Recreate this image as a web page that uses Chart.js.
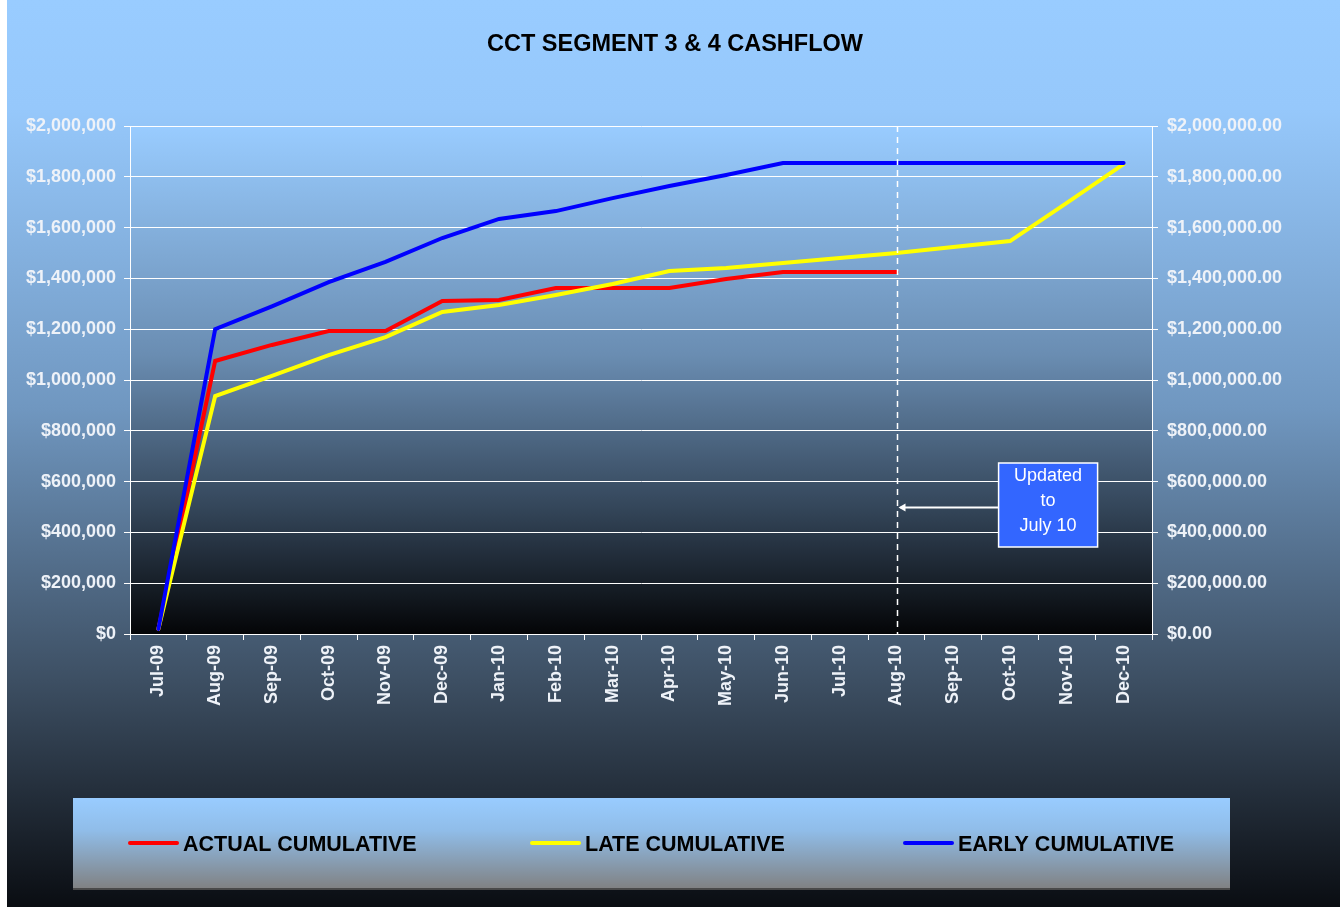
<!DOCTYPE html>
<html>
<head>
<meta charset="utf-8">
<title>CCT Segment 3 & 4 Cashflow</title>
<script src="https://cdn.jsdelivr.net/npm/chart.js@4.4.1/dist/chart.umd.min.js"></script>
<style>
  html, body { margin: 0; padding: 0; background: #ffffff; }
  #wrap { position: absolute; left: 7px; top: 0; width: 1333px; height: 907px; }
</style>
</head>
<body>
<div id="wrap"><canvas id="grafico" width="1333" height="907"></canvas></div>
<script>
const categories = ['Jul-09', 'Aug-09', 'Sep-09', 'Oct-09', 'Nov-09', 'Dec-09', 'Jan-10', 'Feb-10', 'Mar-10',
    'Apr-10', 'May-10', 'Jun-10', 'Jul-10', 'Aug-10', 'Sep-10', 'Oct-10', 'Nov-10', 'Dec-10'];

const actualCumulative = [20000, 1075000, 1138000, 1193000, 1193000, 1311000, 1315000, 1362000, 1362000,
    1362000, 1398000, 1425000, 1425000, 1425000, null, null, null, null];
const lateCumulative = [20000, 937000, 1016000, 1098000, 1169000, 1268000, 1295000, 1335000, 1378000,
    1429000, 1441000, 1461000, 1480000, 1500000, 1524000, 1547000, 1697000, 1850000];
const earlyCumulative = [20000, 1200000, 1290000, 1385000, 1465000, 1559000, 1634000, 1665000, 1716000,
    1764000, 1807000, 1854000, 1854000, 1854000, 1854000, 1854000, 1854000, 1854000];

const seriesNames = ['ACTUAL CUMULATIVE', 'LATE CUMULATIVE', 'EARLY CUMULATIVE'];
const seriesColors = ['#ff0000', '#ffff00', '#0000ff'];
const updatedMonth = 'Aug-10';
const noteLines = ['Updated', 'to', 'July 10'];

const FONT = '"Liberation Sans", Arial, sans-serif';

// backgrounds, title, legend box and the "updated" marker
const decor = {
    id: 'decor',
    beforeDraw(chart) {
        const ctx = chart.ctx, a = chart.chartArea;
        const w = chart.width, h = chart.height;
        let g = ctx.createLinearGradient(0, 0, 0, h);
        g.addColorStop(0, '#99ccff');
        g.addColorStop(0.12, '#96c8fb');
        g.addColorStop(0.45, '#7097c0');
        g.addColorStop(0.75, '#3d4f63');
        g.addColorStop(1, '#0a0d12');
        ctx.save();
        ctx.fillStyle = g;
        ctx.fillRect(0, 0, w, h);

        g = ctx.createLinearGradient(0, a.top, 0, a.bottom);
        g.addColorStop(0, '#99ccff');
        g.addColorStop(0.45, '#6a8db2');
        g.addColorStop(0.75, '#34465a');
        g.addColorStop(1, '#040507');
        ctx.fillStyle = g;
        ctx.fillRect(a.left, a.top, a.right - a.left, a.bottom - a.top);

        // title
        ctx.fillStyle = '#000000';
        ctx.font = 'bold 23.5px ' + FONT;
        ctx.textAlign = 'center';
        ctx.textBaseline = 'middle';
        ctx.fillText('CCT SEGMENT 3 & 4 CASHFLOW', 668, 45);

        // legend box
        const lx = 66, ly = 798, lw = 1157, lh = 92;
        g = ctx.createLinearGradient(0, ly, 0, ly + lh);
        g.addColorStop(0, '#99ccff');
        g.addColorStop(0.35, '#90bde9');
        g.addColorStop(1, '#808080');
        ctx.fillStyle = g;
        ctx.fillRect(lx, ly, lw, lh);
        ctx.fillStyle = '#4a4a4a';
        ctx.fillRect(lx, ly + lh - 2, lw, 2);

        const itemX = [123, 525, 898];
        ctx.font = 'bold 21.5px ' + FONT;
        ctx.textAlign = 'left';
        for (let i = 0; i < seriesNames.length; i++) {
            ctx.strokeStyle = seriesColors[i];
            ctx.lineWidth = 4;
            ctx.lineCap = 'round';
            ctx.beginPath();
            ctx.moveTo(itemX[i], 843);
            ctx.lineTo(itemX[i] + 47, 843);
            ctx.stroke();
            ctx.fillStyle = '#000000';
            ctx.fillText(seriesNames[i], itemX[i] + 53, 845);
        }
        ctx.restore();
    },
    afterDatasetsDraw(chart) {
        const ctx = chart.ctx, a = chart.chartArea;
        const xs = chart.scales.x, ys = chart.scales.y;
        const mx = Math.round(xs.getPixelForValue(categories.indexOf(updatedMonth))) + 0.5;
        ctx.save();
        ctx.strokeStyle = '#ffffff';
        ctx.lineWidth = 1.5;
        ctx.setLineDash([6, 5]);
        ctx.beginPath();
        ctx.moveTo(mx, a.top);
        ctx.lineTo(mx, a.bottom);
        ctx.stroke();
        ctx.setLineDash([]);

        // note box
        const step = xs.getPixelForValue(1) - xs.getPixelForValue(0);
        const cx = xs.getPixelForValue(categories.indexOf('Oct-10')) + step * 0.67;
        const cy = ys.getPixelForValue(500000) - 2;
        const bw = 99, bh = 84;
        const bx = cx - bw / 2, by = cy - bh / 2;

        // arrow
        const ay = ys.getPixelForValue(500000) + 0.5;
        ctx.lineWidth = 2;
        ctx.beginPath();
        ctx.moveTo(bx, ay);
        ctx.lineTo(mx + 3, ay);
        ctx.stroke();
        ctx.fillStyle = '#ffffff';
        ctx.beginPath();
        ctx.moveTo(mx + 1, ay);
        ctx.lineTo(mx + 8, ay - 4);
        ctx.lineTo(mx + 8, ay + 4);
        ctx.closePath();
        ctx.fill();

        ctx.fillStyle = '#3366ff';
        ctx.fillRect(bx, by, bw, bh);
        ctx.lineWidth = 1.5;
        ctx.strokeRect(bx, by, bw, bh);
        ctx.fillStyle = '#ffffff';
        ctx.font = '18px ' + FONT;
        ctx.textAlign = 'center';
        ctx.textBaseline = 'middle';
        ctx.fillText(noteLines[0], cx, by + 13);
        ctx.fillText(noteLines[1], cx, by + 38);
        ctx.fillText(noteLines[2], cx, by + 63);
        ctx.restore();
    }
};

const tickFont = { family: FONT, size: 18, weight: 'bold' };
const tickColor = '#eef2f8';

function dollars(v) {
    return '$' + Number(v).toLocaleString('en-US');
}
function dollarsCents(v) {
    return '$' + Number(v).toLocaleString('en-US', { minimumFractionDigits: 2, maximumFractionDigits: 2 });
}

new Chart(document.getElementById('grafico'), {
    type: 'line',
    data: {
        labels: categories,
        datasets: [
            {
                label: seriesNames[0],
                data: actualCumulative,
                borderColor: seriesColors[0],
                order: 3
            },
            {
                label: seriesNames[1],
                data: lateCumulative,
                borderColor: seriesColors[1],
                order: 2
            },
            {
                label: seriesNames[2],
                data: earlyCumulative,
                borderColor: seriesColors[2],
                order: 1
            }
        ]
    },
    options: {
        responsive: false,
        animation: false,
        devicePixelRatio: 1,
        layout: { padding: { top: 126, left: 0, right: 0, bottom: 0 } },
        elements: {
            line: { borderWidth: 4, tension: 0, fill: false, borderCapStyle: 'round' },
            point: { radius: 0, hoverRadius: 0 }
        },
        plugins: {
            legend: { display: false },
            title: { display: false },
            tooltip: { enabled: false }
        },
        scales: {
            x: {
                offset: true,
                afterFit(scale) { scale.height = 273; },
                grid: {
                    offset: true,
                    drawOnChartArea: false,
                    drawTicks: true,
                    tickLength: 6,
                    color: '#ffffff'
                },
                border: { display: true, color: '#ffffff', width: 1 },
                ticks: {
                    autoSkip: false,
                    minRotation: 90,
                    maxRotation: 90,
                    padding: 5,
                    color: tickColor,
                    font: tickFont
                }
            },
            y: {
                position: 'left',
                min: 0,
                max: 2000000,
                afterFit(scale) { scale.width = 123; },
                grid: { color: '#ffffff', lineWidth: 1, tickLength: 6 },
                border: { display: true, color: '#ffffff', width: 1 },
                ticks: {
                    stepSize: 200000,
                    padding: 8,
                    color: tickColor,
                    font: tickFont,
                    callback: dollars
                }
            },
            y2: {
                position: 'right',
                min: 0,
                max: 2000000,
                afterFit(scale) { scale.width = 188; },
                grid: { drawOnChartArea: false, color: '#ffffff', tickLength: 6 },
                border: { display: true, color: '#ffffff', width: 1 },
                ticks: {
                    stepSize: 200000,
                    padding: 9,
                    color: tickColor,
                    font: tickFont,
                    callback: dollarsCents
                }
            }
        }
    },
    plugins: [decor]
});
</script>
</body>
</html>
